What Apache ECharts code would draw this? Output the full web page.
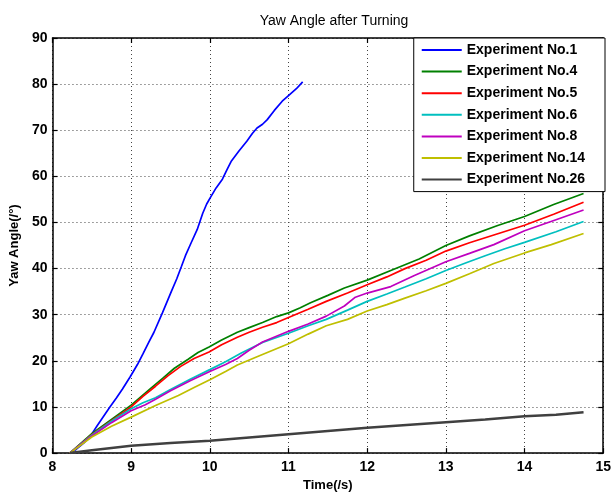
<!DOCTYPE html>
<html>
<head>
<meta charset="utf-8">
<script src="https://cdn.jsdelivr.net/npm/echarts@6/dist/echarts.min.js"></script>
<style>
html,body{margin:0;padding:0;background:#fff;}
#c{width:614px;height:497px;}
</style>
</head>
<body>
<div id="c"></div>
<script>
// Data: [time (s), yaw angle (deg)]
const exp1 = [[8.22,0],[8.30,0.8],[8.40,2.2],[8.49,3.9],[8.57,6.0],[8.65,8.0],[8.73,10],[8.81,11.9],[8.89,13.9],[8.99,16.6],[9.08,19.2],[9.15,21.5],[9.22,23.9],[9.29,26.2],[9.40,30.5],[9.51,35],[9.58,37.8],[9.64,40.5],[9.69,42.8],[9.76,45.5],[9.84,48.5],[9.91,52],[9.96,54],[10.01,55.5],[10.08,57.5],[10.16,59.4],[10.22,61.5],[10.27,63.2],[10.37,65.5],[10.47,67.6],[10.54,69.3],[10.60,70.5],[10.67,71.3],[10.73,72.3],[10.82,74.3],[10.92,76.3],[11.00,77.5],[11.10,79],[11.18,80.5]];
const exp4 = [[8.22,0],[8.5,4.2],[8.75,7.3],[9.0,10.4],[9.13,12.3],[9.26,14.2],[9.4,16.2],[9.55,18.4],[9.72,20.3],[9.85,21.8],[9.99,23],[10.15,24.5],[10.35,26.2],[10.5,27.2],[10.67,28.3],[10.85,29.6],[11.0,30.4],[11.15,31.5],[11.28,32.6],[11.5,34.2],[11.71,35.8],[12.0,37.5],[12.3,39.6],[12.66,42.1],[13.0,45.0],[13.3,47.1],[13.65,49.3],[14.0,51.3],[14.37,53.9],[14.75,56.3]];
const exp5 = [[8.22,0],[8.5,4.0],[8.75,7.0],[9.0,10.0],[9.15,12.3],[9.31,14.5],[9.47,16.8],[9.63,18.8],[9.8,20.5],[9.99,21.9],[10.15,23.5],[10.35,25.1],[10.5,26.2],[10.67,27.3],[10.85,28.3],[11.0,29.4],[11.25,31.2],[11.48,32.9],[11.75,34.7],[12.0,36.5],[12.25,38.2],[12.48,40],[12.75,41.8],[13.0,43.8],[13.3,45.6],[13.65,47.5],[14.0,49.4],[14.37,51.8],[14.75,54.4]];
const exp6 = [[8.22,0],[8.5,3.9],[8.75,6.9],[9.0,9.6],[9.15,10.9],[9.31,12.0],[9.5,13.8],[9.75,16.0],[10.0,18.1],[10.2,19.8],[10.4,21.7],[10.67,24.0],[11.0,26.0],[11.25,27.6],[11.48,29.0],[11.75,31.0],[12.0,32.9],[12.25,34.5],[12.48,36.0],[12.75,37.8],[13.0,39.6],[13.25,41.2],[13.5,42.8],[13.75,44.3],[14.0,45.7],[14.4,48.0],[14.75,50.2]];
const exp8 = [[8.22,0],[8.5,3.7],[8.75,6.6],[9.0,9.2],[9.18,10.5],[9.31,11.7],[9.5,13.5],[9.75,15.7],[10.0,17.7],[10.2,19.2],[10.35,20.5],[10.5,22.3],[10.67,24.1],[11.0,26.4],[11.25,28.0],[11.48,29.7],[11.71,31.9],[11.85,33.8],[12.0,34.7],[12.3,36.1],[12.6,38.5],[13.0,41.5],[13.3,43.3],[13.61,45.2],[14.0,48.2],[14.4,50.6],[14.75,52.7]];
const exp14 = [[8.22,0],[8.5,3.5],[8.75,5.8],[9.0,7.8],[9.31,10.3],[9.6,12.5],[9.8,14.2],[10.0,15.9],[10.2,17.7],[10.35,19.1],[10.6,20.9],[11.0,23.7],[11.25,25.8],[11.48,27.6],[11.75,29.0],[12.0,30.8],[12.25,32.2],[12.48,33.6],[12.75,35.2],[13.0,36.8],[13.3,38.9],[13.61,41.1],[14.0,43.4],[14.34,45.2],[14.75,47.6]];
const exp26 = [[8.22,0],[8.5,0.6],[9.0,1.6],[9.5,2.2],[10.0,2.7],[10.5,3.4],[11.0,4.1],[11.5,4.8],[12.0,5.5],[12.5,6.1],[13.0,6.7],[13.5,7.3],[14.0,8.0],[14.4,8.3],[14.75,8.85]];

const seriesNames = ['Experiment No.1','Experiment No.4','Experiment No.5','Experiment No.6','Experiment No.8','Experiment No.14','Experiment No.26'];
const seriesData = [exp1, exp4, exp5, exp6, exp8, exp14, exp26];
const seriesColors = ['#0000ff','#008000','#ff0000','#00bfbf','#bf00bf','#bfbf00','#404040'];
const seriesWidths = [1.7,1.7,1.7,1.7,1.7,1.7,2.5];

const xMin = 8, xMax = 15, xStep = 1;
const yMin = 0, yMax = 90, yStep = 10;
const titleText = 'Yaw Angle after Turning';
const xName = 'Time(/s)';
const yName = 'Yaw Angle(/°)';

const FONT = '"Liberation Sans", Arial, sans-serif';
const chart = echarts.init(document.getElementById('c'), null, {renderer:'canvas'});

const tickStyle = {show:true, inside:true, length:5, lineStyle:{color:'#000', width:1.2}};
const lineStyle = {show:true, onZero:false, lineStyle:{color:'#000', width:1.5}};
const gridLine = {show:true, lineStyle:{color:'#444', width:1, type:[1,3]}};

chart.setOption({
  animation:false,
  backgroundColor:'#fff',
  title:{text:titleText, left:329, textAlign:'center', top:9,
    textStyle:{fontFamily:FONT, fontSize:14, fontWeight:'normal', color:'#000'}},
  grid:{left:52, right:9, top:38, bottom:35, containLabel:false},
  legend:{
    orient:'vertical', right:9, top:38,
    data:seriesNames.map((n,i)=>({name:n, icon:'rect', itemStyle:{color:seriesColors[i], borderWidth:0}})),
    backgroundColor:'#fff', borderColor:'#000', borderWidth:1,
    padding:[5,20,5,8], itemGap:7.6, itemWidth:40, itemHeight:2,
    textStyle:{fontFamily:FONT, fontSize:14, fontWeight:'bold', color:'#000', lineHeight:14}
  },
  xAxis:[
    {type:'value', min:xMin, max:xMax, interval:xStep, position:'bottom',
     axisLine:lineStyle, axisTick:tickStyle, splitLine:gridLine,
     axisLabel:{margin:7, fontFamily:FONT, fontSize:14, fontWeight:'bold', color:'#000'},
     name:xName, nameLocation:'middle', nameGap:21,
     nameTextStyle:{fontFamily:FONT, fontSize:13, fontWeight:'bold', color:'#000'}},
    {type:'value', min:xMin, max:xMax, interval:xStep, position:'top',
     axisLine:lineStyle, axisTick:tickStyle, splitLine:{show:false}, axisLabel:{show:false}}
  ],
  yAxis:[
    {type:'value', min:yMin, max:yMax, interval:yStep, position:'left',
     axisLine:lineStyle, axisTick:tickStyle, splitLine:gridLine,
     axisLabel:{margin:5, fontFamily:FONT, fontSize:14, fontWeight:'bold', color:'#000'},
     name:yName, nameLocation:'middle', nameGap:29, nameRotate:90,
     nameTextStyle:{fontFamily:FONT, fontSize:13, fontWeight:'bold', color:'#000'}},
    {type:'value', min:yMin, max:yMax, interval:yStep, position:'right',
     axisLine:lineStyle, axisTick:tickStyle, splitLine:{show:false}, axisLabel:{show:false}}
  ],
  series: seriesNames.map((n,i)=>({
    name:n, type:'line', xAxisIndex:0, yAxisIndex:0,
    data:seriesData[i], showSymbol:false, symbol:'none',
    lineStyle:{color:seriesColors[i], width:seriesWidths[i]},
    itemStyle:{color:seriesColors[i]}
  }))
});
</script>
</body>
</html>
